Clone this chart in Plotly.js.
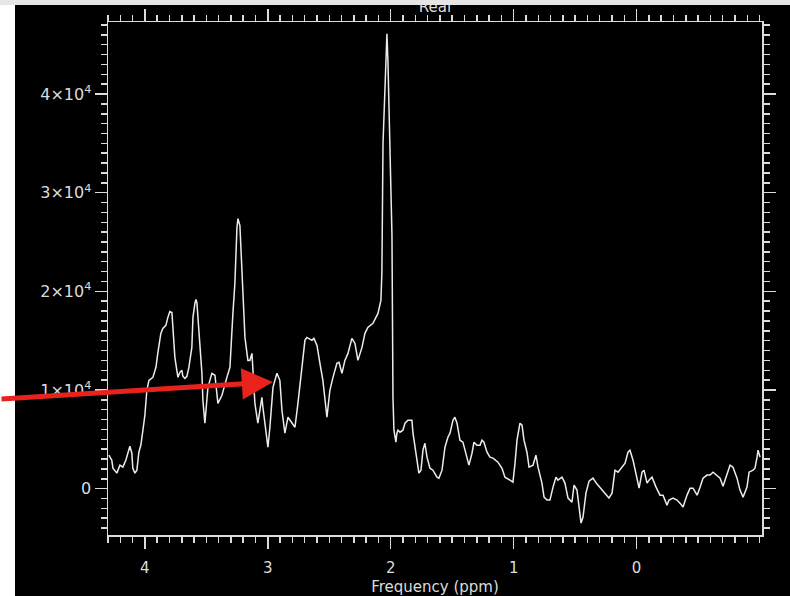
<!DOCTYPE html>
<html>
<head>
<meta charset="utf-8">
<script src="https://cdn.plot.ly/plotly-3.0.1.min.js"></script>
<style>
  html, body { margin: 0; padding: 0; background: #e6e6e6; width: 790px; height: 596px; overflow: hidden; }
  #chart { position: absolute; left: 0; top: 5px; width: 790px; height: 591px; }
</style>
</head>
<body>
<div id="chart"></div>
<script>
// Frequency axis (ppm) and real-part intensity
const ppm = [
  4.293, 4.269, 4.260, 4.228, 4.203, 4.179, 4.155, 4.138, 4.122, 4.106,
  4.098, 4.081, 4.065, 4.049, 4.033, 4.016, 4.000, 3.984, 3.967, 3.935,
  3.910, 3.894, 3.870, 3.854, 3.829, 3.813, 3.797, 3.780, 3.772, 3.756,
  3.740, 3.731, 3.715, 3.699, 3.691, 3.675, 3.658, 3.642, 3.618, 3.609,
  3.593, 3.585, 3.577, 3.561, 3.544, 3.536, 3.528, 3.512, 3.496, 3.487,
  3.455, 3.430, 3.406, 3.373, 3.333, 3.308, 3.284, 3.268, 3.251, 3.243,
  3.227, 3.211, 3.203, 3.186, 3.162, 3.146, 3.129, 3.121, 3.105, 3.081,
  3.048, 3.040, 3.007, 2.999, 2.983, 2.958, 2.926, 2.902, 2.885, 2.861,
  2.836, 2.804, 2.779, 2.755, 2.723, 2.698, 2.682, 2.641, 2.625, 2.600,
  2.576, 2.552, 2.519, 2.495, 2.470, 2.438, 2.421, 2.397, 2.373, 2.348,
  2.316, 2.291, 2.267, 2.234, 2.210, 2.186, 2.145, 2.104, 2.080, 2.072,
  2.063, 2.047, 2.031, 2.023, 2.007, 1.990, 1.982, 1.974, 1.958, 1.950,
  1.941, 1.925, 1.901, 1.884, 1.860, 1.828, 1.819, 1.803, 1.787, 1.771,
  1.754, 1.738, 1.722, 1.705, 1.681, 1.657, 1.624, 1.608, 1.583, 1.559,
  1.535, 1.518, 1.494, 1.478, 1.461, 1.437, 1.413, 1.380, 1.364, 1.339,
  1.323, 1.299, 1.274, 1.258, 1.242, 1.217, 1.193, 1.168, 1.128, 1.095,
  1.071, 1.030, 1.006, 0.989, 0.973, 0.949, 0.932, 0.916, 0.892, 0.875,
  0.843, 0.819, 0.802, 0.770, 0.753, 0.729, 0.705, 0.680, 0.656, 0.640,
  0.607, 0.583, 0.558, 0.526, 0.509, 0.485, 0.469, 0.452, 0.436, 0.412,
  0.387, 0.355, 0.322, 0.281, 0.257, 0.225, 0.200, 0.176, 0.151, 0.119,
  0.094, 0.070, 0.054, 0.029, -0.003, -0.020, -0.044, -0.060, -0.085, -0.101,
  -0.125, -0.134, -0.158, -0.190, -0.215, -0.247, -0.264, -0.296, -0.329, -0.353,
  -0.378, -0.410, -0.435, -0.459, -0.492, -0.516, -0.540, -0.573, -0.597, -0.622,
  -0.654, -0.679, -0.703, -0.736, -0.760, -0.784, -0.817, -0.841, -0.866, -0.898,
  -0.915, -0.947, -0.963, -0.980, -0.988, -1.004
];
const realPart = [
  3390, 2880, 2070, 1570, 2380, 2180, 2880, 3690, 4300, 3590,
  2070, 1570, 1870, 3690, 4400, 5920, 7440, 9970, 10980, 11280,
  12300, 13810, 15740, 16240, 16550, 17360, 17960, 17860, 16340, 13310,
  11990, 11280, 11790, 11990, 11390, 11180, 11390, 12300, 14320, 17360,
  18770, 19180, 18870, 16040, 14020, 11690, 8960, 6630, 8960, 10270,
  11690, 11490, 8650, 9460, 11280, 12300, 17760, 20800, 26460, 27370,
  26670, 22310, 19080, 15330, 13000, 13000, 13710, 11690, 8650, 6630,
  9260, 8250, 4910, 4200, 6220, 10270, 11690, 10980, 7940, 5620,
  7240, 6630, 6220, 8650, 12300, 15030, 15330, 15030, 15230, 14520,
  12700, 10980, 7240, 9970, 11280, 12700, 12800, 11690, 13000, 13710,
  15230, 14720, 13000, 14320, 15740, 16340, 16750, 17760, 19080, 21910,
  34960, 41850, 46100, 43360, 35980, 25650, 9260, 5920, 4710, 5620,
  5920, 5720, 5920, 6630, 6930, 6930, 5620, 4200, 2580, 1570,
  1870, 3900, 4600, 3190, 2070, 1870, 1160, 1060, 1870, 4200,
  5210, 5620, 6930, 7240, 6630, 4910, 4710, 3190, 2380, 3590,
  4710, 4400, 4400, 4910, 4710, 3690, 3190, 3090, 2680, 2070,
  1160, 860, 660, 2580, 4910, 6630, 6430, 4910, 3690, 2180,
  2380, 3390, 2180, 560, -860, -1160, -1160, 150, 1160, 860,
  1160, 560, -960, -1370, 350, -150, -1970, -3490, -2880, -460,
  760, 1060, 460, -150, -460, -960, -460, 1870, 1670, 2180,
  2580, 3690, 3900, 2880, 860, 50, 1670, 1870, 560, 860,
  1160, 860, 150, -660, -660, -1670, -1160, -960, -1160, -1470,
  -1870, -660, 50, 50, -660, 150, 1060, 1370, 1370, 1670,
  1370, 1060, 250, 1570, 2380, 2180, 1060, -150, -860, 150,
  1670, 1870, 2070, 3190, 3900, 3190
];
const xTickVals = [4, 3, 2, 1, 0];
const xTickText = ['4', '3', '2', '1', '0'];
const yTickVals = [0, 10000, 20000, 30000, 40000];
const yTickText = ['0', '1×10<sup>4</sup>', '2×10<sup>4</sup>', '3×10<sup>4</sup>', '4×10<sup>4</sup>'];

const fg = '#dcdcdc';
const fontFam = 'DejaVu Sans, sans-serif';

const trace = {
  x: ppm, y: realPart, type: 'scatter', mode: 'lines',
  line: { color: '#ececec', width: 1.5, shape: 'linear' },
  hoverinfo: 'skip'
};

const axisCommon = {
  showgrid: false, zeroline: false,
  showline: true, linecolor: fg, linewidth: 1.5, mirror: 'ticks',
  ticks: 'outside', ticklen: 12, tickwidth: 1.5, tickcolor: fg,
  tickfont: { family: fontFam, size: 15, color: fg }
};

const layout = {
  width: 790, height: 591,
  paper_bgcolor: '#000000', plot_bgcolor: '#000000',
  margin: { l: 108, r: 28, t: 17, b: 61 },
  showlegend: false,
  title: {
    text: 'Real', x: 0.5, xref: 'paper', y: 0.997, yref: 'container', yanchor: 'middle',
    font: { family: fontFam, size: 15, color: fg }
  },
  xaxis: Object.assign({}, axisCommon, {
    range: [4.30, -1.02],
    tickmode: 'array', tickvals: xTickVals, ticktext: xTickText,
    minor: { dtick: 0.1, ticklen: 6, tickwidth: 1.5, tickcolor: fg, ticks: 'outside' },
    ticklabelstandoff: 6,
    title: { text: 'Frequency (ppm)', font: { family: fontFam, size: 15, color: fg }, standoff: 6 }
  }),
  yaxis: Object.assign({}, axisCommon, {
    range: [-4700, 47300],
    tickmode: 'array', tickvals: yTickVals, ticktext: yTickText,
    tickfont: { family: fontFam, size: 16, color: fg },
    minor: { dtick: 1000, ticklen: 6, tickwidth: 1.5, tickcolor: fg, ticks: 'outside' }
  }),
  shapes: [
    { type: 'rect', layer: 'above', xref: 'paper', yref: 'paper',
      xsizemode: 'pixel', xanchor: 0, x0: -110, x1: -93,
      y0: -0.3, y1: 1.2, fillcolor: '#ffffff', line: { width: 0 } }
  ],
  annotations: [
    { xref: 'paper', yref: 'paper', x: 0.2523, y: 0.2982, text: '',
      showarrow: true, arrowhead: 2, arrowsize: 1.25, arrowwidth: 5,
      arrowcolor: '#e8231e', ax: -275, ay: 17, standoff: 0 }
  ]
};

Plotly.newPlot('chart', [trace], layout, { staticPlot: true, displayModeBar: false });
</script>
</body>
</html>
